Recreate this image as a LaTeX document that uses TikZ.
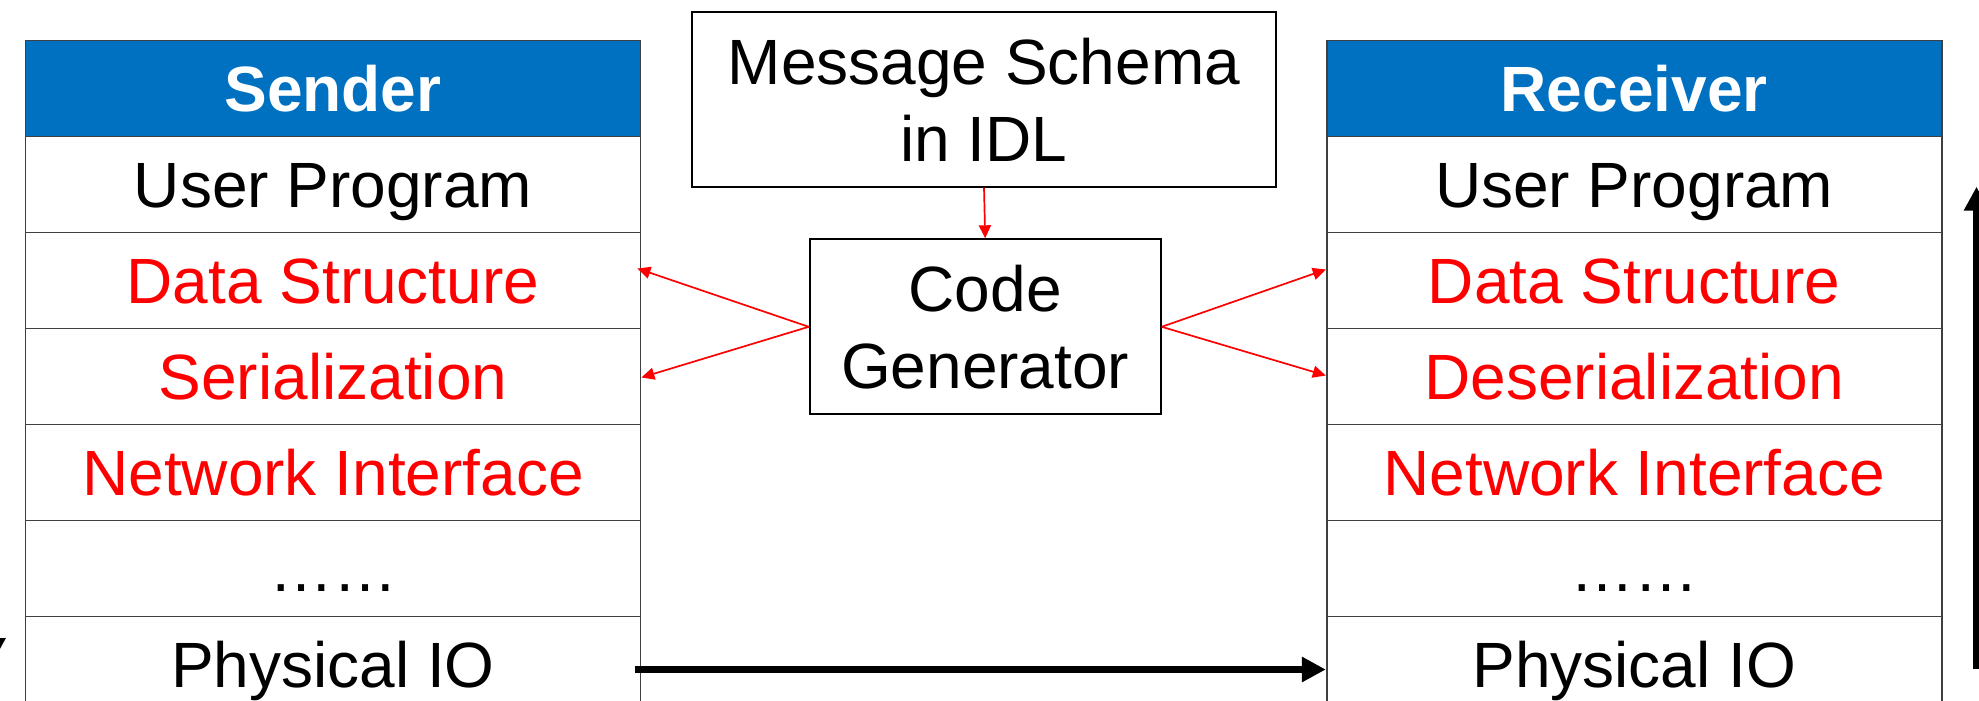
\documentclass[tikz,border=0pt]{standalone}
\usepackage{fontspec}
\setmainfont{Liberation Sans}
\usetikzlibrary{arrows.meta}
\definecolor{hdrblue}{RGB}{0,112,192}
\definecolor{gridgray}{RGB}{64,64,64}
\begin{document}
\begin{tikzpicture}[x=1pt,y=-1pt,
  every node/.style={font=\fontsize{64}{77}\selectfont},
  layer/.style={draw=gridgray, line width=1.8pt, rectangle,
    minimum width=615pt, minimum height=96pt, inner sep=0pt,
    text height=45.8pt, text depth=0pt},
  head/.style={layer, fill=hdrblue, text=white,
    font=\fontsize{64}{77}\selectfont\bfseries},
  gen/.style={text=red},
  box/.style={draw=black, line width=2pt, rectangle, inner sep=0pt, align=center},
  redarrow/.style={red, line width=1.7pt, -{Triangle[length=13pt,width=12pt]}},
  bigarrow/.style={black, line width=7.5pt, -{Triangle[length=24pt,width=24pt]}}
]
\useasboundingbox (0,0) rectangle (1979,701);
\clip (0,0) rectangle (1979,701);

% Sender protocol stack
\node[head] (shd) at (333,88.5) {Sender};
\node[layer] (sup) at (333,184.5) {User Program};
\node[layer,gen] (sds) at (333,280.5) {Data Structure};
\node[layer,gen] (sser) at (333,376.5) {Serialization};
\node[layer,gen] (snet) at (333,472.5) {Network Interface};
\node[layer] (sdots) at (333,568.5) {……};
\node[layer] (sio) at (333,664.5) {Physical IO};

% Receiver protocol stack
\node[head] (rhd) at (1634.2,88.5) {Receiver};
\node[layer] (rup) at (1634.2,184.5) {User Program};
\node[layer,gen] (rds) at (1634.2,280.5) {Data Structure};
\node[layer,gen] (rdes) at (1634.2,376.5) {Deserialization};
\node[layer,gen] (rnet) at (1634.2,472.5) {Network Interface};
\node[layer] (rdots) at (1634.2,568.5) {……};
\node[layer] (rio) at (1634.2,664.5) {Physical IO};

% Schema and generator
\node[box, minimum width=584pt, minimum height=174.4pt] (schema) at (984,99.5) {Message Schema\\in IDL};
\node[box, minimum width=351pt, minimum height=175pt] (codegen) at (985.2,326.8) {Code\\Generator};

% Generated code flows
\draw[redarrow] (schema.south) -- (codegen.north);
\draw[redarrow] (codegen.west) -- ([shift={(-4,-12)}]sds.east);
\draw[redarrow] (codegen.west) -- ([shift={(0,1)}]sser.east);
\draw[redarrow] (codegen.east) -- ([shift={(0,-11)}]rds.west);
\draw[redarrow] (codegen.east) -- ([shift={(0,-1)}]rdes.west);

% Data path
\draw[bigarrow] ([shift={(-6,5)}]sio.east) -- ([shift={(0,5)}]rio.west);

\coordinate (upfoot) at (1976.5,669);
\coordinate (uptip) at (1976.5,186.7);
\draw[bigarrow] (upfoot) -- (uptip);

\coordinate (downfoot) at (-7,560);
\coordinate (downtip) at (-7,662);
\draw[bigarrow] (downfoot) -- (downtip);
\end{tikzpicture}
\end{document}
